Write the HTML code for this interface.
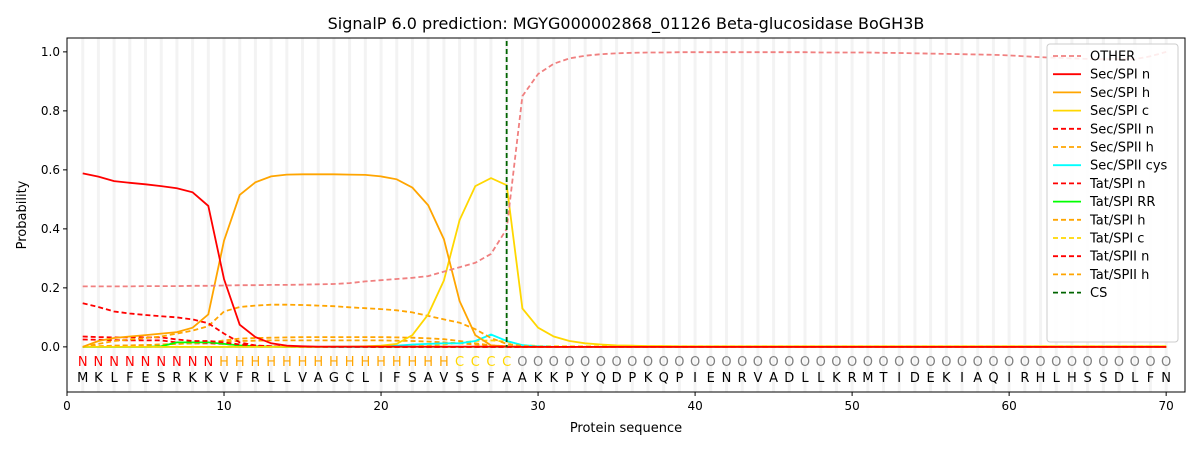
<!DOCTYPE html>
<html><head><meta charset="utf-8"><style>
body{margin:0;background:#fff}
svg{font-family:"DejaVu Sans","Liberation Sans",sans-serif}
</style></head><body>
<svg id="chart" width="1200" height="450" viewBox="0 0 1200 450" xmlns="http://www.w3.org/2000/svg">
<rect width="1200" height="450" fill="#fff"/>
<g id="grid"></g>
<g id="series"></g>
<g id="seqlabels"></g>
<rect x="67" y="38" width="1118" height="354" fill="none" stroke="#000" stroke-width="1"/>
<g id="axes"></g>
<text x="626" y="29" text-anchor="middle" font-size="16">SignalP 6.0 prediction: MGYG000002868_01126 Beta-glucosidase BoGH3B</text>
<text x="626" y="432" text-anchor="middle" font-size="13">Protein sequence</text>
<text transform="translate(26,215) rotate(-90)" text-anchor="middle" font-size="13">Probability</text>
<g id="legend"></g>
</svg>
<script>
const seq="MKLFESRKKVFRLLVAGCLIFSAVSSFAAKKPYQDPKQPIENRVADLLKRMTIDEKIAQIRHLHSSDLFN".split("");
const regionLabels="NNNNNNNNNHHHHHHHHHHHHHHHCCCCOOOOOOOOOOOOOOOOOOOOOOOOOOOOOOOOOOOOOOOOOO".split("");
const xTicks=[0,10,20,30,40,50,60,70];
const yTicks=[0,0.2,0.4,0.6,0.8,1.0];
const csPos=28;
const other=[0.205,0.205,0.205,0.205,0.206,0.206,0.206,0.207,0.207,0.208,0.209,0.209,0.21,0.21,0.211,0.212,0.213,0.216,0.222,0.226,0.23,0.234,0.24,0.255,0.27,0.285,0.315,0.4,0.85,0.925,0.96,0.978,0.987,0.992,0.995,0.997,0.998,0.998,0.999,0.999,0.999,0.999,0.999,0.999,0.999,0.999,0.999,0.998,0.998,0.998,0.998,0.997,0.996,0.995,0.994,0.993,0.992,0.991,0.99,0.988,0.985,0.982,0.98,0.978,0.976,0.975,0.975,0.975,0.985,1.0];
const secSpiN=[0.588,0.577,0.562,0.556,0.551,0.545,0.538,0.524,0.478,0.23,0.075,0.033,0.012,0.004,0.002,0.001,0.001,0.001,0.001,0.001,0.001,0.001,0.001,0.001,0.001,0.001,0.001,0.001,0,0,0,0,0,0,0,0,0,0,0,0,0,0,0,0,0,0,0,0,0,0,0,0,0,0,0,0,0,0,0,0,0,0,0,0,0,0,0,0,0,0];
const secSpiH=[0.0,0.02,0.03,0.035,0.04,0.045,0.05,0.065,0.11,0.36,0.515,0.558,0.578,0.584,0.585,0.585,0.585,0.584,0.583,0.578,0.568,0.54,0.48,0.365,0.155,0.04,0.005,0.002,0,0,0,0,0,0,0,0,0,0,0,0,0,0,0,0,0,0,0,0,0,0,0,0,0,0,0,0,0,0,0,0,0,0,0,0,0,0,0,0,0,0];
const secSpiC=[0,0,0,0,0,0,0,0,0,0,0,0,0,0,0,0,0.001,0.001,0.002,0.004,0.01,0.04,0.11,0.225,0.43,0.545,0.572,0.548,0.13,0.065,0.035,0.02,0.012,0.008,0.005,0.004,0.003,0.003,0.002,0.002,0.002,0.002,0.002,0.002,0.002,0.002,0.002,0.002,0.002,0.002,0.002,0.002,0.002,0.002,0.002,0.002,0.002,0.002,0.002,0.002,0.002,0.002,0.002,0.002,0.002,0.002,0.002,0.002,0.002,0.002];
const secSpiiN=[0.148,0.135,0.12,0.113,0.108,0.104,0.1,0.093,0.08,0.045,0.015,0.005,0.002,0.001,0,0,0,0,0,0,0,0,0,0,0,0,0,0,0,0,0,0,0,0,0,0,0,0,0,0,0,0,0,0,0,0,0,0,0,0,0,0,0,0,0,0,0,0,0,0,0,0,0,0,0,0,0,0,0,0];
const secSpiiH=[0.0,0.01,0.02,0.025,0.03,0.035,0.045,0.055,0.07,0.12,0.135,0.14,0.143,0.143,0.142,0.14,0.138,0.134,0.131,0.128,0.124,0.117,0.105,0.093,0.082,0.06,0.03,0.01,0.003,0.001,0,0,0,0,0,0,0,0,0,0,0,0,0,0,0,0,0,0,0,0,0,0,0,0,0,0,0,0,0,0,0,0,0,0,0,0,0,0,0,0];
const secSpiiCys=[0,0,0,0,0,0,0,0,0,0,0,0,0,0,0,0,0,0,0,0.002,0.004,0.008,0.01,0.012,0.012,0.02,0.042,0.02,0.006,0.002,0,0,0,0,0,0,0,0,0,0,0,0,0,0,0,0,0,0,0,0,0,0,0,0,0,0,0,0,0,0,0,0,0,0,0,0,0,0,0,0];
const tatSpiN=[0.035,0.033,0.032,0.032,0.032,0.032,0.025,0.02,0.02,0.015,0.008,0.004,0.002,0.001,0,0,0,0,0,0,0,0,0,0,0,0,0,0,0,0,0,0,0,0,0,0,0,0,0,0,0,0,0,0,0,0,0,0,0,0,0,0,0,0,0,0,0,0,0,0,0,0,0,0,0,0,0,0,0,0];
const tatSpiRR=[0,0,0,0,0,0.002,0.015,0.015,0.015,0.01,0.005,0.002,0.001,0,0,0,0,0,0,0,0,0,0,0,0,0,0,0,0,0,0,0,0,0,0,0,0,0,0,0,0,0,0,0,0,0,0,0,0,0,0,0,0,0,0,0,0,0,0,0,0,0,0,0,0,0,0,0,0,0];
const tatSpiH=[0,0.002,0.004,0.005,0.006,0.008,0.01,0.012,0.015,0.022,0.028,0.03,0.031,0.032,0.033,0.033,0.033,0.033,0.033,0.033,0.032,0.031,0.029,0.026,0.02,0.012,0.005,0.002,0.001,0,0,0,0,0,0,0,0,0,0,0,0,0,0,0,0,0,0,0,0,0,0,0,0,0,0,0,0,0,0,0,0,0,0,0,0,0,0,0,0,0];
const tatSpiC=[0,0,0,0,0,0,0,0,0,0,0,0,0,0,0,0,0,0,0,0,0.001,0.002,0.004,0.008,0.014,0.02,0.022,0.018,0.006,0.003,0.002,0.002,0.002,0.002,0.002,0.002,0.002,0.002,0.002,0.002,0.002,0.002,0.002,0.002,0.002,0.002,0.002,0.002,0.002,0.002,0.002,0.002,0.002,0.002,0.002,0.002,0.002,0.002,0.002,0.002,0.002,0.002,0.002,0.002,0.002,0.002,0.002,0.002,0.002,0.002];
const tatSpiiN=[0.025,0.024,0.023,0.022,0.022,0.022,0.015,0.012,0.012,0.01,0.005,0.002,0.001,0,0,0,0,0,0,0,0,0,0,0,0,0,0,0,0,0,0,0,0,0,0,0,0,0,0,0,0,0,0,0,0,0,0,0,0,0,0,0,0,0,0,0,0,0,0,0,0,0,0,0,0,0,0,0,0,0];
const tatSpiiH=[0,0.002,0.004,0.005,0.006,0.008,0.01,0.012,0.014,0.018,0.02,0.021,0.022,0.022,0.022,0.022,0.022,0.022,0.022,0.022,0.021,0.02,0.018,0.015,0.012,0.008,0.004,0.002,0.001,0,0,0,0,0,0,0,0,0,0,0,0,0,0,0,0,0,0,0,0,0,0,0,0,0,0,0,0,0,0,0,0,0,0,0,0,0,0,0,0,0];

const NS="http://www.w3.org/2000/svg";
const X0=67,X1=1185,Y0=38,Y1=392,xMin=0,xMax=71.2,yMin=-0.153,yMax=1.047;
const sx=v=>X0+(v-xMin)/(xMax-xMin)*(X1-X0);
const sy=v=>Y1-(v-yMin)/(yMax-yMin)*(Y1-Y0);
function mk(tag,attrs,parent){const e=document.createElementNS(NS,tag);for(const k in attrs)e.setAttribute(k,attrs[k]);parent.appendChild(e);return e;}
const grid=document.getElementById('grid');
seq.forEach((c,i)=>{const l=mk('line',{x1:sx(i+1),x2:sx(i+1),y1:Y0,y2:Y1,stroke:'#f3f3f3','stroke-width':3},grid);

});
const series=[
 ['OTHER',other,'#f08080','5,3'],
 ['Sec/SPI n',secSpiN,'#ff0000',''],
 ['Sec/SPI h',secSpiH,'#ffa500',''],
 ['Sec/SPI c',secSpiC,'#ffd700',''],
 ['Sec/SPII n',secSpiiN,'#ff0000','5,3'],
 ['Sec/SPII h',secSpiiH,'#ffa500','5,3'],
 ['Sec/SPII cys',secSpiiCys,'#00ffff',''],
 ['Tat/SPI n',tatSpiN,'#ff0000','5,3'],
 ['Tat/SPI RR',tatSpiRR,'#00ff00',''],
 ['Tat/SPI h',tatSpiH,'#ffa500','5,3'],
 ['Tat/SPI c',tatSpiC,'#ffd700','5,3'],
 ['Tat/SPII n',tatSpiiN,'#ff0000','5,3'],
 ['Tat/SPII h',tatSpiiH,'#ffa500','5,3']
];
const sg=document.getElementById('series');
series.slice().reverse().forEach(([name,vals,col,dash])=>{
 const d=vals.map((v,i)=>(i?'L':'M')+sx(i+1).toFixed(1)+','+sy(v).toFixed(1)).join('');
 const p=mk('path',{d:d,fill:'none',stroke:col,'stroke-width':1.8,'stroke-dasharray':dash},sg);
 
 
});
const cs=mk('line',{x1:sx(csPos),x2:sx(csPos),y1:Y0+3,y2:sy(0),stroke:'#006400','stroke-width':1.8,'stroke-dasharray':'5,3'},sg);


const lg=document.getElementById('seqlabels');
const regCol={N:'#ff0000',H:'#ffa500',C:'#ffd700',O:'#808080'};
seq.forEach((c,i)=>{
 const t=mk('text',{x:sx(i+1),y:366,'text-anchor':'middle','font-size':13,fill:regCol[regionLabels[i]]},lg);t.textContent=regionLabels[i];
 
 
 const a=mk('text',{x:sx(i+1),y:382,'text-anchor':'middle','font-size':13,fill:'#000'},lg);a.textContent=c;
 
 
});
const ax=document.getElementById('axes');
xTicks.forEach(v=>{mk('line',{x1:sx(v),x2:sx(v),y1:Y1,y2:Y1+4,stroke:'#000'},ax);
 const t=mk('text',{x:sx(v),y:Y1+18,'text-anchor':'middle','font-size':12},ax);t.textContent=v;
 
 });
yTicks.forEach(v=>{mk('line',{x1:X0-4,x2:X0,y1:sy(v),y2:sy(v),stroke:'#000'},ax);
 const t=mk('text',{x:X0-7,y:sy(v)+4,'text-anchor':'end','font-size':12},ax);t.textContent=v.toFixed(1);
 
 });
const leg=document.getElementById('legend');
const box=mk('rect',{x:1047,y:44,width:131,height:298,rx:3,fill:'#fff','fill-opacity':0.85,stroke:'#ccc'},leg);


const entries=series.concat([['CS',null,'#006400','5,3']]);
entries.forEach(([name,,col,dash],i)=>{const y=56+i*18.2;
 mk('line',{x1:1053,x2:1081,y1:y,y2:y,stroke:col,'stroke-width':1.8,'stroke-dasharray':dash},leg);
 const t=mk('text',{x:1090,y:y+4.5,'font-size':13},leg);t.textContent=name;
 
 });
</script>
</body></html>
